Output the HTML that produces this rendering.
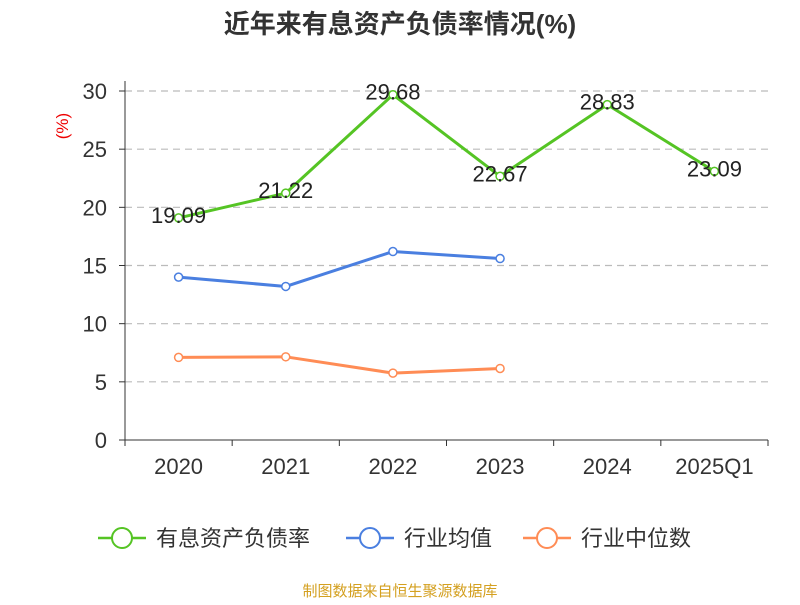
<!DOCTYPE html>
<html><head><meta charset="utf-8"><style>
body{margin:0;background:#fff;}
svg text{font-family:"Liberation Sans","Noto Sans CJK SC",sans-serif;}
</style></head><body>
<svg width="800" height="600" xmlns="http://www.w3.org/2000/svg">
<rect width="800" height="600" fill="#fff"/>
<text x="400" y="33" text-anchor="middle" font-size="26" font-weight="bold" fill="#333">近年来有息资产负债率情况(%)</text>
<text x="68" y="126" font-size="17" fill="#e00" transform="rotate(-90 68 126)" text-anchor="middle">(%)</text>
<g id="grid"></g><g id="axes"></g><g id="series"></g>
<g id="legend"></g>
<text x="400" y="596" text-anchor="middle" font-size="15" fill="#d4a020">制图数据来自恒生聚源数据库</text>
</svg>
<script>
const categories=["2020","2021","2022","2023","2024","2025Q1"];
const debtRatio=[19.09,21.22,29.68,22.67,28.83,23.09];
const industryAvg=[14.0,13.2,16.2,15.6,null,null];
const industryMedian=[7.1,7.15,5.75,6.15,null,null];
const yTicks=[0,5,10,15,20,25,30];
const NS="http://www.w3.org/2000/svg";
const X0=125,X1=768,Y0=440,Y1=91,YMAX=30;
const bw=(X1-X0)/categories.length;
const xs=i=>X0+bw*(i+0.5);
const ys=v=>Y0-(v/YMAX)*(Y0-Y1);
function mk(t,a,p){const e=document.createElementNS(NS,t);for(const k in a)e.setAttribute(k,a[k]);p.appendChild(e);return e;}
const grid=document.getElementById('grid'),axes=document.getElementById('axes'),ser=document.getElementById('series'),leg=document.getElementById('legend');
yTicks.forEach(v=>{
 if(v>0){const l=mk('line',{x1:X0,x2:X1,y1:ys(v),y2:ys(v),stroke:'#bbb','stroke-dasharray':'7,5','stroke-width':1.2},grid);
 
 }
 const t=mk('text',{x:X0-18,y:ys(v)+8,'text-anchor':'end','font-size':22,fill:'#333'},axes);t.textContent=v;
 
 
 mk('line',{x1:X0-6,x2:X0,y1:ys(v),y2:ys(v),stroke:'#333'},axes);
});
mk('line',{x1:X0,x2:X0,y1:Y1-10,y2:Y0,stroke:'#333'},axes);
mk('line',{x1:X0,x2:X1,y1:Y0,y2:Y0,stroke:'#333'},axes);
for(let i=0;i<=categories.length;i++)mk('line',{x1:X0+bw*i,x2:X0+bw*i,y1:Y0,y2:Y0+6,stroke:'#333'},axes);
categories.forEach((c,i)=>{const t=mk('text',{x:xs(i),y:Y0+34,'text-anchor':'middle','font-size':22,fill:'#333'},axes);t.textContent=c;
 
 });
function series(data,color,name,labels){
 const g=mk('g',{},ser);
 
 
 const pts=[];data.forEach((v,i)=>{if(v!=null)pts.push([xs(i),ys(v),v]);});
 mk('polyline',{points:pts.map(p=>p[0]+','+p[1]).join(' '),fill:'none',stroke:color,'stroke-width':3},g);
 pts.forEach(p=>{const c=mk('circle',{cx:p[0],cy:p[1],r:4,fill:'#fff',stroke:color,'stroke-width':1.5},g);
  
  
  if(labels){const t=mk('text',{x:p[0],y:p[1]+5,'text-anchor':'middle','font-size':22,fill:'#222'},g);t.textContent=p[2].toFixed(2);
   
   }});
}
series(industryMedian,'#ff8c55','industry-median-line',false);
series(industryAvg,'#4a7fe0','industry-average-line',false);
series(debtRatio,'#55c424','debt-ratio-line',true);
[['有息资产负债率','#55c424',98],['行业均值','#4a7fe0',346],['行业中位数','#ff8c55',523]].forEach(([n,c,x])=>{
 const g=mk('g',{},leg);
 
 
 mk('line',{x1:x,x2:x+48,y1:538,y2:538,stroke:c,'stroke-width':2.5},g);
 mk('circle',{cx:x+24,cy:538,r:10,fill:'#fff',stroke:c,'stroke-width':2},g);
 const t=mk('text',{x:x+58,y:546,'font-size':22,fill:'#333'},g);t.textContent=n;
});
</script>
</body></html>
